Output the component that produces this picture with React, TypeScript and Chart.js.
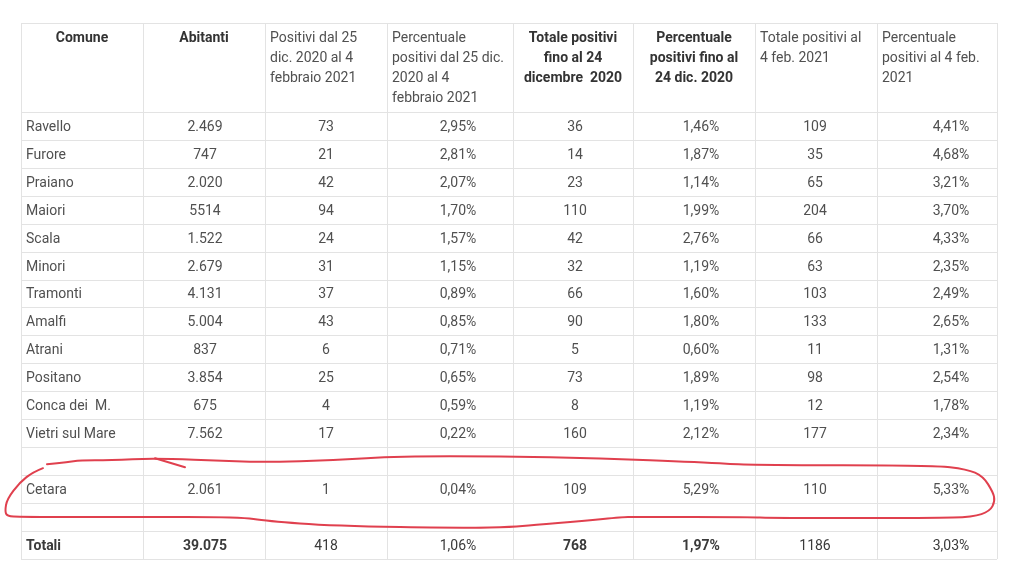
import React, { useEffect, useRef } from 'react';
import { Chart, registerables } from 'chart.js';

Chart.register(...registerables);

// ---------- DATA ----------
const headerLines: string[][] = [
  ['Comune'],
  ['Abitanti'],
  ['Positivi dal 25', 'dic. 2020 al 4', 'febbraio 2021'],
  ['Percentuale', 'positivi dal 25 dic.', '2020 al 4', 'febbraio 2021'],
  ['Totale positivi', 'fino al 24', 'dicembre  2020'],
  ['Percentuale', 'positivi fino al', '24 dic. 2020'],
  ['Totale positivi al', '4 feb. 2021'],
  ['Percentuale', 'positivi al 4 feb.', '2021'],
];
const comuni = ['Ravello', 'Furore', 'Praiano', 'Maiori', 'Scala', 'Minori', 'Tramonti', 'Amalfi', 'Atrani', 'Positano', 'Conca dei  M.', 'Vietri sul Mare', 'Cetara'];
const abitanti = ['2.469', '747', '2.020', '5514', '1.522', '2.679', '4.131', '5.004', '837', '3.854', '675', '7.562', '2.061'];
const positiviPeriodo = [73, 21, 42, 94, 24, 31, 37, 43, 6, 25, 4, 17, 1];
const percPeriodo = [2.95, 2.81, 2.07, 1.70, 1.57, 1.15, 0.89, 0.85, 0.71, 0.65, 0.59, 0.22, 0.04];
const totaleDic = [36, 14, 23, 110, 42, 32, 66, 90, 5, 73, 8, 160, 109];
const percDic = [1.46, 1.87, 1.14, 1.99, 2.76, 1.19, 1.60, 1.80, 0.60, 1.89, 1.19, 2.12, 5.29];
const totaleFeb = [109, 35, 65, 204, 66, 63, 103, 133, 11, 98, 12, 177, 110];
const percFeb = [4.41, 4.68, 3.21, 3.70, 4.33, 2.35, 2.49, 2.65, 1.31, 2.54, 1.78, 2.34, 5.33];
const totaliRow = ['Totali', '39.075', '418', '1,06%', '768', '1,97%', '1186', '3,03%'];

// ---------- LAYOUT ----------
const colEdges = [0, 122, 244, 366, 492, 612, 734, 856, 976];
const headerH = 89;
const rowH = 28;
const boldCols = [true, true, false, false, true, true, false, false];
const headerAlign = ['center', 'center', 'left', 'left', 'center', 'center', 'left', 'left'];
const cellAlign = ['left', 'center', 'center', 'center', 'center', 'center', 'center', 'center'];
const cellDx = [0, 1, 0, 8, 2, 7, -1, 14];
const textDy = 1.5;
const FONT = 'Roboto, "Open Sans", sans-serif';
const TEXT = '#505050';
const BOLD_TEXT = '#333333';
const GRID = '#e3e3e3';
const RED = '#e0404e';

const pct = (v: number) => v.toFixed(2).replace('.', ',') + '%';

function buildRows(): (string[] | null)[] {
  const rows: (string[] | null)[] = [];
  const mk = (i: number) => [comuni[i], abitanti[i], String(positiviPeriodo[i]), pct(percPeriodo[i]), String(totaleDic[i]), pct(percDic[i]), String(totaleFeb[i]), pct(percFeb[i])];
  for (let i = 0; i < 12; i++) rows.push(mk(i));
  rows.push(null);
  rows.push(mk(12));
  rows.push(null);
  rows.push(totaliRow);
  return rows;
}

// freehand highlight loop around the Cetara row (layout units)
const loopMain: [number, number][] = [
  [22, 446], [12, 450], [-1, 460], [-14, 477], [-16, 489], [-14, 494], [-1, 495], [112, 495], [219, 495],
  [246, 499], [312, 504], [446, 506], [491, 505], [512, 503], [562, 499], [602, 495], [612, 495],
  [732, 495], [746, 496], [912, 496], [952, 495], [969, 489], [974, 479], [972, 470], [962, 454],
  [946, 447], [912, 443], [732, 443], [679, 440], [579, 436], [479, 434], [379, 434], [312, 438],
  [246, 440], [212, 439], [134, 436], [89, 438], [59, 438], [46, 440], [26, 442],
];
const loopHook: [number, number][] = [[134, 436], [164, 445]];

export default function App() {
  const ref = useRef<HTMLCanvasElement | null>(null);

  useEffect(() => {
    if (!ref.current) return;
    const rows = buildRows();
    const rowTop = (r: number) => headerH + r * rowH;

    const datasets = colEdges.slice(0, 8).map((_, c) => {
      const pts: { x: number; y: number; label: string }[] = [];
      rows.forEach((row, r) => {
        if (!row) return;
        const x = cellAlign[c] === 'left' ? colEdges[c] + 5 : (colEdges[c] + colEdges[c + 1]) / 2;
        pts.push({ x, y: rowTop(r) + rowH / 2, label: row[c] });
      });
      return { label: headerLines[c].join(' '), data: pts, pointRadius: 0, showLine: false, col: c } as any;
    });

    const tablePlugin = {
      id: 'tablePlugin',
      beforeDatasetsDraw(chart: any) {
        const { ctx } = chart;
        const xs = chart.scales.x;
        const ys = chart.scales.y;
        ctx.save();
        ctx.fillStyle = '#ffffff';
        ctx.fillRect(0, 0, chart.width, chart.height);
        ctx.strokeStyle = GRID;
        ctx.lineWidth = 1;
        const top = ys.getPixelForValue(0);
        const bottom = ys.getPixelForValue(headerH + rows.length * rowH);
        colEdges.forEach((e) => {
          const px = Math.round(xs.getPixelForValue(e)) + 0.5;
          ctx.beginPath();
          ctx.moveTo(px, top);
          ctx.lineTo(px, bottom);
          ctx.stroke();
        });
        const left = xs.getPixelForValue(0);
        const right = xs.getPixelForValue(colEdges[colEdges.length - 1]);
        const edges = [0];
        for (let r = 0; r <= rows.length; r++) edges.push(rowTop(r));
        edges.forEach((e) => {
          const py = Math.round(ys.getPixelForValue(e)) + 0.5;
          ctx.beginPath();
          ctx.moveTo(left, py);
          ctx.lineTo(right, py);
          ctx.stroke();
        });
        ctx.restore();
      },
      afterDatasetsDraw(chart: any) {
        const { ctx } = chart;
        const xs = chart.scales.x;
        const ys = chart.scales.y;
        ctx.save();
        ctx.textBaseline = 'middle';
        // header
        headerLines.forEach((lines, c) => {
          ctx.font = `${boldCols[c] ? 'bold ' : ''}14px ${FONT}`;
          ctx.fillStyle = boldCols[c] ? BOLD_TEXT : TEXT;
          const align = headerAlign[c];
          ctx.textAlign = align as CanvasTextAlign;
          const x = align === 'left' ? xs.getPixelForValue(colEdges[c] + 5) : xs.getPixelForValue((colEdges[c] + colEdges[c + 1]) / 2);
          lines.forEach((ln, i) => {
            ctx.fillText(ln, x, ys.getPixelForValue(14 + i * 20) + textDy);
          });
        });
        // cells
        chart.data.datasets.forEach((ds: any, di: number) => {
          const meta = chart.getDatasetMeta(di);
          const c = ds.col;
          ctx.textAlign = cellAlign[c] as CanvasTextAlign;
          ds.data.forEach((p: any, j: number) => {
            const el = meta.data[j];
            const isTot = j === ds.data.length - 1;
            const bold = isTot && boldCols[c];
            ctx.font = `${bold ? 'bold ' : ''}14px ${FONT}`;
            ctx.fillStyle = isTot ? '#3a3a3a' : TEXT;
            ctx.fillText(p.label, el.x + cellDx[c], el.y + textDy);
          });
        });
        // highlight loop
        const drawPath = (pts: [number, number][]) => {
          const P = pts.map(([x, y]) => [xs.getPixelForValue(x), ys.getPixelForValue(y)]);
          ctx.beginPath();
          ctx.moveTo(P[0][0], P[0][1]);
          for (let i = 1; i < P.length - 1; i++) {
            const mx = (P[i][0] + P[i + 1][0]) / 2;
            const my = (P[i][1] + P[i + 1][1]) / 2;
            ctx.quadraticCurveTo(P[i][0], P[i][1], mx, my);
          }
          ctx.lineTo(P[P.length - 1][0], P[P.length - 1][1]);
          ctx.stroke();
        };
        ctx.strokeStyle = RED;
        ctx.lineWidth = 2;
        ctx.lineJoin = 'round';
        ctx.lineCap = 'round';
        drawPath(loopMain);
        drawPath(loopHook);
        ctx.restore();
      },
    };

    const chart = new Chart(ref.current, {
      type: 'scatter',
      data: { datasets },
      options: {
        responsive: false,
        animation: false,
        events: [],
        layout: { padding: { left: 21, top: 23, right: 27, bottom: 26 } },
        scales: {
          x: { type: 'linear', display: false, min: 0, max: 976 },
          y: { type: 'linear', display: false, min: 0, max: headerH + rows.length * rowH, reverse: true },
        },
        plugins: { legend: { display: false }, tooltip: { enabled: false } },
      },
      plugins: [tablePlugin],
    });
    return () => chart.destroy();
  }, []);

  return (
    <div style={{ position: 'absolute', left: 0, top: 0, width: 1024, height: 585, background: '#fff' }}>
      <canvas ref={ref} width={1024} height={585} style={{ display: 'block' }} />
    </div>
  );
}
